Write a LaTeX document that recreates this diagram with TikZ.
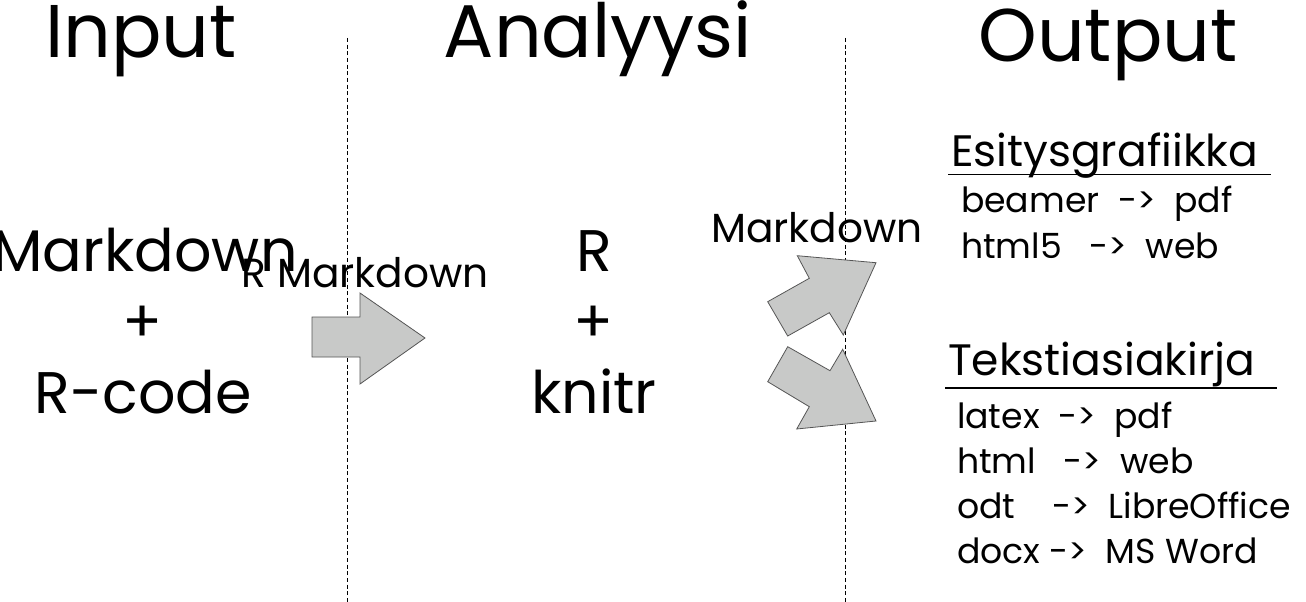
\documentclass[tikz,border=0pt]{standalone}
\usepackage{fontspec}
\setmainfont{Poppins}
\definecolor{arrowfill}{HTML}{C8C9C8}
\definecolor{arrowline}{HTML}{555555}
\begin{document}
\begin{tikzpicture}[x=0.75pt,y=-0.75pt,
  every node/.style={inner sep=0pt, outer sep=0pt},
  title/.style={font=\fontsize{56}{60}\selectfont, anchor=base},
  big/.style={font=\fontsize{44}{48}\selectfont, anchor=base},
  mid/.style={font=\fontsize{30.5}{34}\selectfont, anchor=base},
  head/.style={font=\fontsize{33}{36}\selectfont, anchor=base west},
  item/.style={font=\fontsize{26}{28}\selectfont, anchor=base west},
  sep/.style={line width=0.75pt, dash pattern=on 3pt off 2pt},
  blockarrow/.style={fill=arrowfill, draw=arrowline, line width=0.6pt, line join=miter},
  rule/.style={line width=0.9pt}]
\useasboundingbox (0,0) rectangle (1306,602);

% separators
\coordinate (s1t) at (347,38); \coordinate (s1b) at (347,602);
\coordinate (s2t) at (845,38); \coordinate (s2b) at (845,602);
\draw[sep] (s1t) -- (s1b);
\draw[sep] (s2t) -- (s2b);

% titles
\node[title] (tin) at (141,58) {Input};
\node[title] (tan) at (598,58) {Analyysi};
\node[title] (tout) at (1108,62) {Output};

% input column
\node[big] (md) at (145,272) {Markdown};
\node[big] (p1) at (143,342) {+};
\node[big] (rc) at (143,413) {R-code};

% analysis column
\node[big] (r) at (594,272) {R};
\node[big] (p2) at (594,342) {+};
\node[big] (kn) at (594,413) {knitr};

% arrow labels
\node[mid] (rmd) at (365,287) {R Markdown};
\node[mid] (md2) at (817,243) {Markdown};

% block arrows
\draw[blockarrow] (312,317) -- (360,317) -- (360,293) -- (425,338) -- (360,384) -- (360,357) -- (312,357) -- cycle;
\draw[blockarrow] (767.7,301.7) -- (809.3,278.3) -- (797.3,255.7) -- (876,262.7) -- (843.3,335) -- (829.3,312.7) -- (787.7,336) -- cycle;
\draw[blockarrow] (787.7,346.7) -- (830,370.7) -- (842.7,349.3) -- (876,421) -- (796.7,429) -- (809.3,406.7) -- (767.7,381.7) -- cycle;

% output column
\node[head] (esi) at (951,167) {Esitysgrafiikka};
\coordinate (u1a) at (948,174.5); \coordinate (u1b) at (1271,174.5);
\draw[rule] (u1a) -- (u1b);
\node[item] (i1) at (961,213) {beamer\ \ ->\ \ pdf};
\node[item] (i2) at (961,258) {html5\ \ \ ->\ \ web};

\node[head] (tek) at (948,375) {Tekstiasiakirja};
\coordinate (u2a) at (945,388); \coordinate (u2b) at (1277,388);
\draw[rule] (u2a) -- (u2b);
\node[item] (j1) at (957,428) {latex\ \ ->\ \ pdf};
\node[item] (j2) at (957,473) {html\ \ \ ->\ \ web};
\node[item] (j3) at (957,518) {odt\ \ \ \ ->\ \ LibreOffice};
\node[item] (j4) at (957,563) {docx\ ->\ \ MS Word};
\end{tikzpicture}
\end{document}
